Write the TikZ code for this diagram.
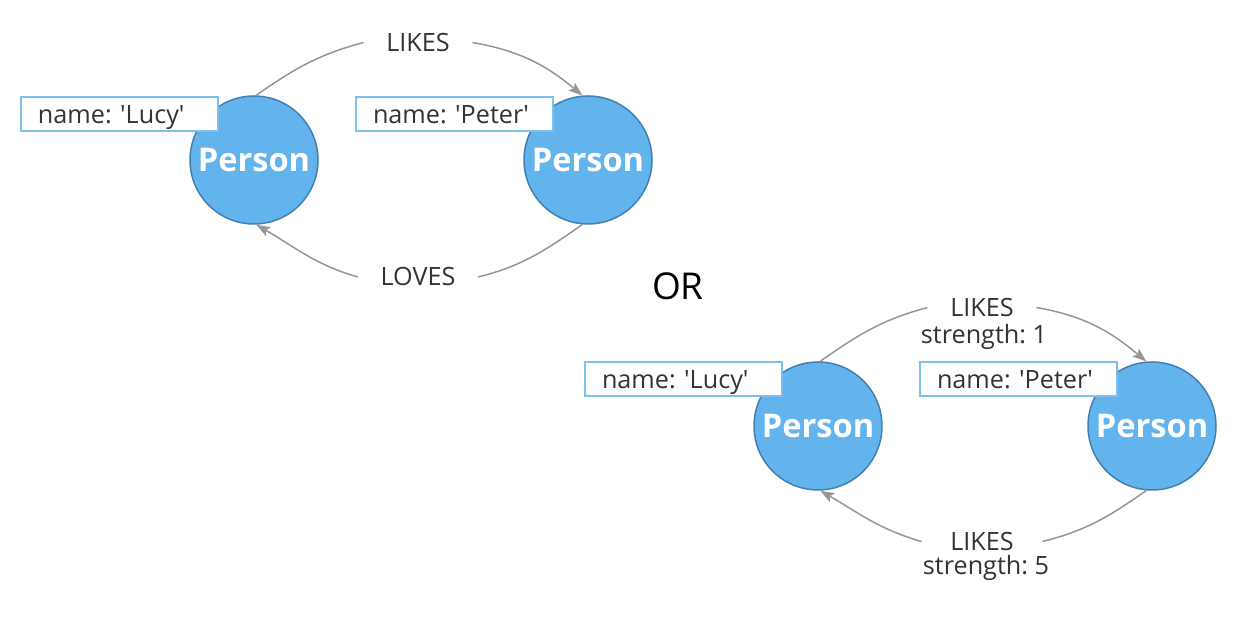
\documentclass[tikz,border=0pt]{standalone}
\usepackage{fontspec}
\setmainfont{Open Sans}
\usetikzlibrary{arrows.meta}
\definecolor{personblue}{RGB}{99,179,237}
\definecolor{personedge}{RGB}{66,128,180}
\definecolor{propblue}{RGB}{125,192,240}
\definecolor{relgray}{RGB}{150,150,150}
\definecolor{labelgray}{RGB}{51,51,51}
\tikzset{every picture/.style={line width=0.75pt}}
\frenchspacing

\begin{document}
\begin{tikzpicture}[x=0.5pt,y=0.5pt,yscale=-1,
  person/.style={circle,fill=personblue,draw=personedge,minimum size=64pt,inner sep=0pt,text=white,font=\fontsize{16.3}{19}\selectfont\bfseries},
  prop/.style={draw=propblue,line width=1pt,fill=white,anchor=north west,minimum width=98.5pt,text width=81.5pt,text height=13.5pt,text depth=3.5pt,inner xsep=8.5pt,inner ysep=0pt,align=left,text=labelgray,font=\fontsize{12.6}{15}\selectfont},
  rellabel/.style={inner xsep=11pt,inner ysep=0pt,text height=9pt,text depth=0pt,text=labelgray,font=\fontsize{12.6}{15}\selectfont},
  relprop/.style={inner sep=0pt,text height=9.5pt,text depth=2.5pt,text=labelgray,font=\fontsize{12.6}{15}\selectfont},
  rel/.style={draw=relgray,line width=0.75pt},
  relarrow/.style={rel,-{Stealth[length=7pt,width=5pt,inset=1.5pt]}}]
\useasboundingbox (0,0) rectangle (1250,624);

% Persons
\node[person] (lucyA) at (254,160) {Person};
\node[person] (peterA) at (588,160) {Person};
\node[person] (lucyB) at (818,426) {Person};
\node[person] (peterB) at (1152,426) {Person};

% Relationship labels
\node[rellabel] (likesA) at (418,42.5) {LIKES};
\node[rellabel] (lovesA) at (418,277) {LOVES};
\node[rellabel] (likesB) at (982,307.5) {LIKES};
\node[relprop] (strengthB) at (984,337) {strength: 1};
\node[rellabel,inner xsep=14pt] (likesC) at (982,541.5) {LIKES};
\node[relprop] (strengthC) at (986,568) {strength: 5};
\node[font=\fontsize{18.5}{22}\selectfont] (or) at (678,286) {OR};

% Relationships (angles flipped by yscale=-1)
\draw[rel] (lucyA.88) to[out=-35,in=-195] (likesA.west);
\draw[relarrow] (likesA.east) to[out=10,in=-140] (peterA.95);
\draw[rel] (peterA.-95) to[out=-215,in=-14] (lovesA.east);
\draw[relarrow] (lovesA.west) to[out=-164,in=30] (lucyA.-88);

\draw[rel] (lucyB.88) to[out=-35,in=-195] (likesB.west);
\draw[relarrow] (likesB.east) to[out=10,in=-140] (peterB.95);
\draw[rel] (peterB.-95) to[out=-215,in=-14] (likesC.east);
\draw[relarrow] (likesC.west) to[out=-164,in=30] (lucyB.-88);

% Properties
\node[prop] (lucyAname) at (20,96) {name: \textquotesingle Lucy\textquotesingle};
\node[prop] (peterAname) at (355,96) {name: \textquotesingle Peter\textquotesingle};
\node[prop] (lucyBname) at (584,361) {name: \textquotesingle Lucy\textquotesingle};
\node[prop] (peterBname) at (919,361) {name: \textquotesingle Peter\textquotesingle};
\end{tikzpicture}
\end{document}
